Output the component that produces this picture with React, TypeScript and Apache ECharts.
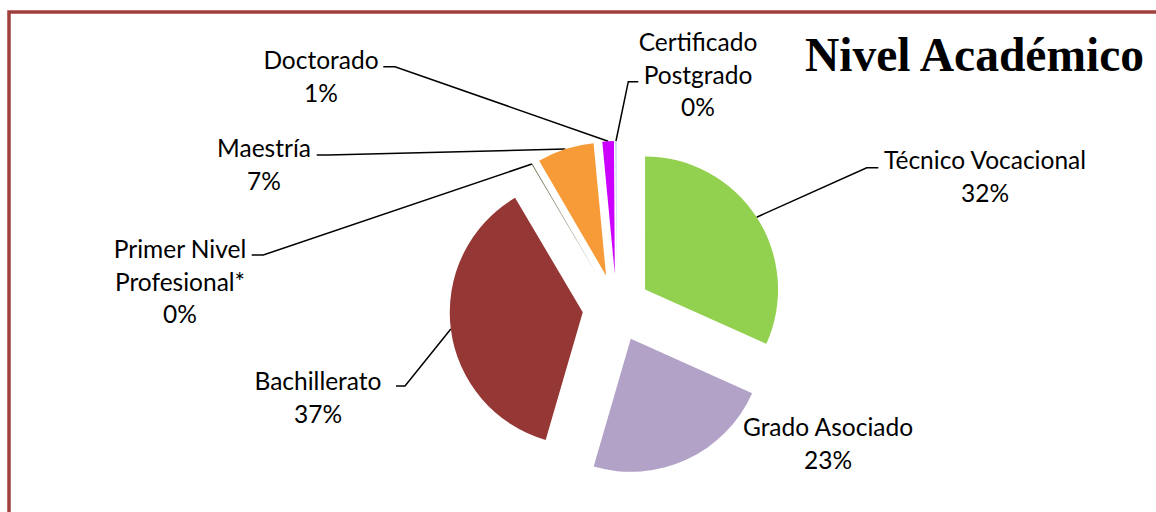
import React, { useEffect, useRef } from 'react';
import * as echarts from 'echarts';

const titleText = 'Nivel Académico';
const categories = [
  'Técnico Vocacional',
  'Grado Asociado',
  'Bachillerato',
  'Primer Nivel\nProfesional*',
  'Maestría',
  'Doctorado',
  'Certificado\nPostgrado',
];
const values = [31.7, 22.8, 37.0, 0.1, 6.9, 1.4, 0.1];
const colors = ['#92D050', '#B2A2C7', '#953735', '#6B6B4E', '#F79B38', '#CC00FF', '#8EB4E3'];

// layout only: pie centre, radius, explosion distance
const PIE_CENTER = [616.5, 308];
const PIE_RADIUS = 133;
const EXPLODE = 34;

// label block centre + leader elbow + leader end (layout only)
const labelCenters = [
  [985, 176],
  [828, 443],
  [318, 397],
  [180, 281],
  [264, 164],
  [321, 76],
  [698, 74],
];
const leaderElbows = [
  [[866.7, 167.7], [878.3, 167.7]],
  null,
  [[405, 386], [396, 386]],
  [[263.3, 255], [251.7, 255]],
  [[328, 155], [316.7, 155]],
  [[395, 66.7], [383.3, 66.7]],
  [[628.3, 81.7], [638.3, 81.7]],
];

export default function App() {
  const ref = useRef<HTMLDivElement>(null);
  useEffect(() => {
    if (!ref.current) return;
    const chart = echarts.init(ref.current, null, { renderer: 'svg' });
    const total = values.reduce((a, b) => a + b, 0);
    let cum = 0;
    const series = categories.map((_, k) => {
      const startA = (cum / total) * 2 * Math.PI;
      cum += values[k];
      const endA = (cum / total) * 2 * Math.PI;
      const mid = (startA + endA) / 2;
      const cx = PIE_CENTER[0] + EXPLODE * Math.sin(mid);
      const cy = PIE_CENTER[1] - EXPLODE * Math.cos(mid);
      return {
        type: 'pie',
        name: categories[k],
        center: [cx, cy],
        radius: PIE_RADIUS,
        startAngle: 90,
        clockwise: true,
        avoidLabelOverlap: false,
        percentPrecision: 0,
        silent: true,
        emphasis: { disabled: true },
        itemStyle: { borderWidth: 0 },
        label: {
          show: true,
          position: 'outside',
          formatter: '{b}\n{d}%',
          fontFamily: 'Lato, "Noto Sans", sans-serif',
          fontSize: 24.5,
          lineHeight: 32.5,
          color: '#000000',
          align: 'center',
        },
        labelLine: {
          show: true,
          lineStyle: { color: '#000000', width: 1.5 },
        },
        labelLayout: (params: any) => {
          const i = params.dataIndex;
          const c = labelCenters[i];
          const el = leaderElbows[i];
          const res: any = { x: c[0], y: c[1], align: 'center', verticalAlign: 'middle' };
          if (el && params.labelLinePoints) {
            res.labelLinePoints = [params.labelLinePoints[0], el[0], el[1]];
          }
          return res;
        },
        data: categories.map((name, i) => ({
          name,
          value: values[i],
          itemStyle: { color: i === k ? colors[i] : 'rgba(0,0,0,0)' },
          label: { show: i === k },
          labelLine: { show: i === k && leaderElbows[i] != null },
        })),
      };
    });
    chart.setOption({
      animation: false,
      backgroundColor: '#ffffff',
      title: {
        text: titleText,
        left: 805,
        top: 31,
        padding: 0,
        textStyle: {
          fontFamily: '"Liberation Serif", serif',
          fontWeight: 'bold',
          fontSize: 47.5,
          color: '#000000',
        },
      },
      graphic: [
        {
          type: 'rect',
          shape: { x: 9, y: 12, width: 1200, height: 600 },
          style: { fill: 'none', stroke: '#A0403E', lineWidth: 3.5 },
          silent: true,
        },
      ],
      series,
    });
    return () => chart.dispose();
  }, []);
  return (
    <div
      ref={ref}
      style={{ position: 'absolute', left: 0, top: 0, width: 1156, height: 512 }}
    />
  );
}
